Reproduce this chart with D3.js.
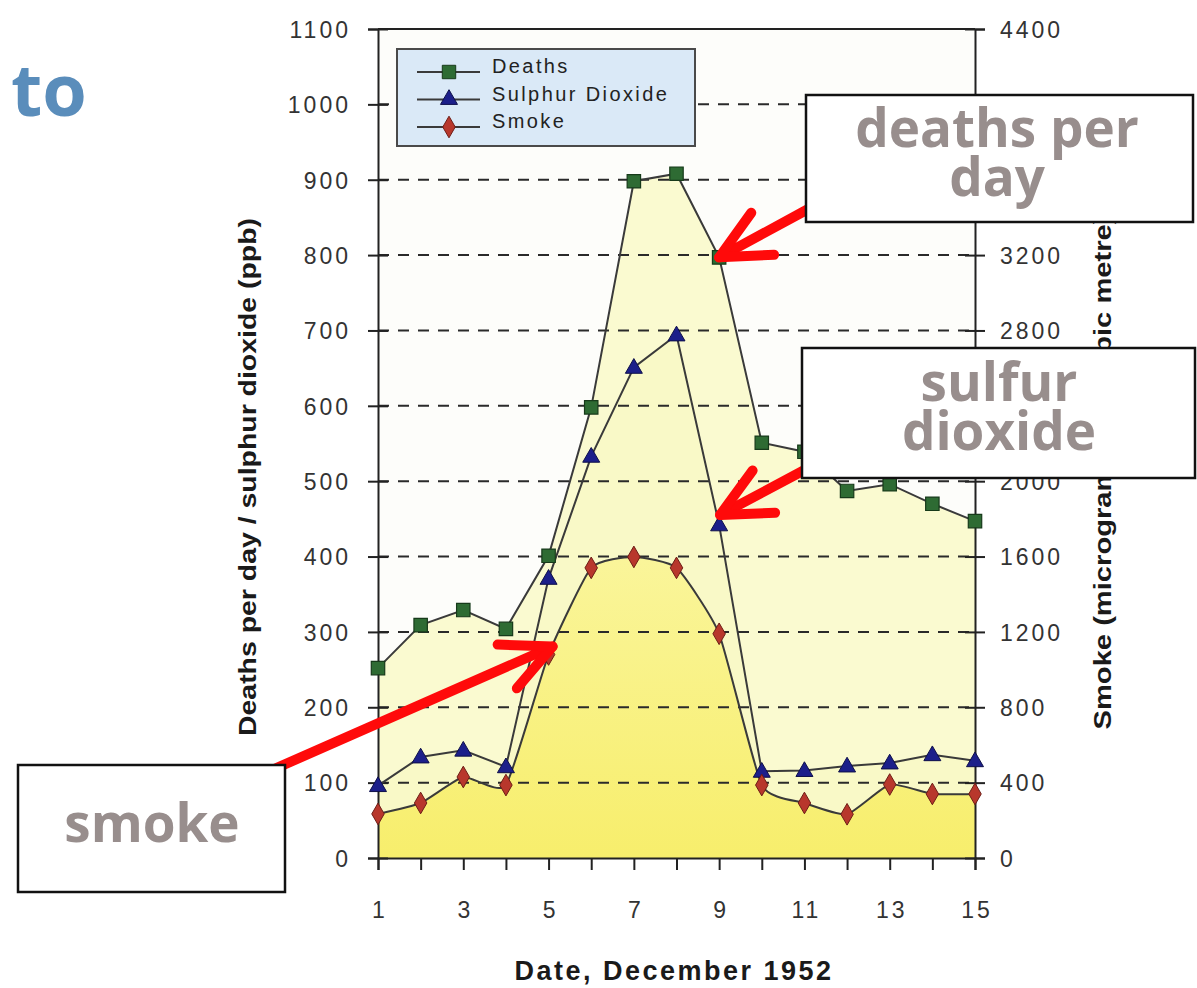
<!DOCTYPE html>
<html>
<head>
<meta charset="utf-8">
<script src="https://cdn.jsdelivr.net/npm/d3@7"></script>
<style>
  body { margin: 0; background: #fff; }
  svg { display: block; }
</style>
</head>
<body>
<div id="chart"></div>
<script>
// data
const days = [1, 2, 3, 4, 5, 6, 7, 8, 9, 10, 11, 12, 13, 14, 15];
const deaths = [252, 309, 329, 304, 401, 598, 898, 908, 797, 551, 539, 487, 496, 470, 447];
const sulphur = [96, 134, 143, 121, 371, 533, 651, 694, 442, 115, 116, 122, 126, 137, 129];
const smoke = [234, 292, 430, 387, 1080, 1540, 1598, 1540, 1190, 387, 292, 232, 390, 340, 340];
const leftTicks = [0, 100, 200, 300, 400, 500, 600, 700, 800, 900, 1000, 1100];
const rightTicks = [0, 400, 800, 1200, 1600, 2000, 2400, 2800, 3200, 3600, 4000, 4400];
const dayLabels = [1, 3, 5, 7, 9, 11, 13, 15];
const gridValues = [100, 200, 300, 400, 500, 600, 700, 800, 900, 1000];
const legendKeys = ["Deaths", "Sulphur Dioxide", "Smoke"];

const W = 1197, H = 988;
const svg = d3.select("#chart").append("svg")
  .attr("width", W).attr("height", H);

// scales
const x = d3.scaleLinear().domain([1, 15]).range([378, 975]);
const yL = d3.scaleLinear().domain([0, 1100]).range([858, 29]);
const yR = d3.scaleLinear().domain([0, 4400]).range([858, 29]);
const smooth = d3.curveCardinal.tension(0.5);

const defs = svg.append("defs");
const grad = defs.append("linearGradient").attr("id", "smokeFill")
  .attr("x1", 0).attr("y1", 0).attr("x2", 0).attr("y2", 1);
grad.append("stop").attr("offset", "0%").attr("stop-color", "#faf59a");
grad.append("stop").attr("offset", "100%").attr("stop-color", "#f7ee6c");

// plot background
svg.append("rect")
  .attr("x", x(1)).attr("y", yL(1100))
  .attr("width", x(15) - x(1)).attr("height", yL(0) - yL(1100))
  .attr("fill", "#fdfdfa");

// area under deaths
svg.append("path")
  .datum(days)
  .attr("fill", "#fafad0")
  .attr("d", d3.area()
    .x(d => x(d))
    .y0(yL(0))
    .y1((d, i) => yL(deaths[i])));

// area under sulphur dioxide (slightly stronger)
svg.append("path")
  .datum(days)
  .attr("fill", "#f9f8c2")
  .attr("fill-opacity", 0.6)
  .attr("d", d3.area()
    .x(d => x(d))
    .y0(yL(0))
    .y1((d, i) => yL(sulphur[i])));

// area under smoke (smoothed)
svg.append("path")
  .datum(days)
  .attr("fill", "url(#smokeFill)")
  .attr("d", d3.area()
    .curve(smooth)
    .x(d => x(d))
    .y0(yR(0))
    .y1((d, i) => yR(smoke[i])));

// dashed grid
svg.selectAll(".grid")
  .data(gridValues)
  .join("line")
    .attr("class", "grid")
    .attr("x1", x(1)).attr("x2", x(15))
    .attr("y1", d => yL(d)).attr("y2", d => yL(d))
    .attr("stroke", "#2a2a2a")
    .attr("stroke-width", 2)
    .attr("stroke-dasharray", "11,9");

// top border
svg.append("line")
  .attr("x1", x(1)).attr("x2", x(15))
  .attr("y1", yL(1100)).attr("y2", yL(1100))
  .attr("stroke", "#222").attr("stroke-width", 2);

const tickFont = g => g
  .style("font-family", "Liberation Sans, Arial, sans-serif")
  .style("font-size", "23px")
  .style("letter-spacing", "3px")
  .attr("fill", "#333");

// left axis
const gL = svg.append("g")
  .attr("transform", `translate(${x(1)},0)`)
  .call(d3.axisLeft(yL).tickValues(leftTicks).tickSize(10).tickFormat(d3.format("d")));
gL.select(".domain").attr("stroke", "#222").attr("stroke-width", 2);
gL.selectAll(".tick line").attr("x1", 10).attr("x2", -10).attr("stroke", "#222").attr("stroke-width", 2);
gL.selectAll(".tick text").attr("x", -27).attr("dy", "0.36em").call(tickFont);

// right axis
const gR = svg.append("g")
  .attr("transform", `translate(${x(15)},0)`)
  .call(d3.axisRight(yR).tickValues(rightTicks).tickSize(10).tickFormat(d3.format("d")));
gR.select(".domain").attr("stroke", "#222").attr("stroke-width", 2);
gR.selectAll(".tick line").attr("x1", -10).attr("x2", 10).attr("stroke", "#222").attr("stroke-width", 2);
gR.selectAll(".tick text").attr("x", 25).attr("dy", "0.36em").call(tickFont);

// bottom axis
const gB = svg.append("g")
  .attr("transform", `translate(0,${yL(0)})`)
  .call(d3.axisBottom(x).tickValues(days).tickSize(12).tickFormat(d => dayLabels.includes(d) ? d : ""));
gB.select(".domain").attr("stroke", "#222").attr("stroke-width", 2);
gB.selectAll(".tick line").attr("stroke", "#222").attr("stroke-width", 2);
gB.selectAll(".tick text").attr("y", 52).attr("dy", "0.36em").attr("dx", "1.5px").call(tickFont);
gL.selectAll(".tick text").attr("text-anchor", "end");
gR.selectAll(".tick text").attr("text-anchor", "start");
gB.selectAll(".tick text").attr("text-anchor", "middle");

// axis titles
svg.append("text")
  .attr("transform", `translate(${x(1) + 296},980)`)
  .attr("text-anchor", "middle")
  .style("font-family", "Liberation Sans, Arial, sans-serif")
  .style("font-size", "27px")
  .style("font-weight", "bold")
  .style("letter-spacing", "2.5px")
  .attr("fill", "#1a1a1a")
  .text("Date, December 1952");

svg.append("text")
  .attr("transform", "translate(256,477) rotate(-90)")
  .attr("text-anchor", "middle")
  .attr("textLength", 518)
  .attr("lengthAdjust", "spacingAndGlyphs")
  .style("font-family", "Liberation Sans, Arial, sans-serif")
  .style("font-size", "23px")
  .style("font-weight", "bold")
  .attr("fill", "#1a1a1a")
  .text("Deaths per day / sulphur dioxide (ppb)");

svg.append("text")
  .attr("transform", "translate(1111,472) rotate(-90)")
  .attr("text-anchor", "middle")
  .attr("textLength", 515)
  .attr("lengthAdjust", "spacingAndGlyphs")
  .style("font-family", "Liberation Sans, Arial, sans-serif")
  .style("font-size", "23px")
  .style("font-weight", "bold")
  .attr("fill", "#1a1a1a")
  .text("Smoke (micrograms per cubic metre)");

// series lines
const lineColor = "#3a3a3a";
svg.append("path").datum(days)
  .attr("fill", "none").attr("stroke", lineColor).attr("stroke-width", 2)
  .attr("d", d3.line().x(d => x(d)).y((d, i) => yL(deaths[i])));
svg.append("path").datum(days)
  .attr("fill", "none").attr("stroke", lineColor).attr("stroke-width", 2)
  .attr("d", d3.line().x(d => x(d)).y((d, i) => yL(sulphur[i])));
svg.append("path").datum(days)
  .attr("fill", "none").attr("stroke", lineColor).attr("stroke-width", 2)
  .attr("d", d3.line().curve(smooth).x(d => x(d)).y((d, i) => yR(smoke[i])));

// markers
const sym = {
  Deaths: { type: d3.symbolSquare, size: 180, fill: "#2e6b33", stroke: "#173a1a" },
  "Sulphur Dioxide": { type: d3.symbolTriangle, size: 125, fill: "#1c1f8a", stroke: "#0e0f4a" },
  Smoke: { type: d3.symbolDiamond, size: 135, fill: "#b8372c", stroke: "#6e1d16" }
};

svg.selectAll(".mDeaths").data(days).join("path")
  .attr("class", "mDeaths")
  .attr("transform", (d, i) => `translate(${x(d)},${yL(deaths[i])})`)
  .attr("d", d3.symbol().type(sym.Deaths.type).size(sym.Deaths.size))
  .attr("fill", sym.Deaths.fill).attr("stroke", sym.Deaths.stroke).attr("stroke-width", 1.2);

svg.selectAll(".mSO2").data(days).join("path")
  .attr("class", "mSO2")
  .attr("transform", (d, i) => `translate(${x(d)},${yL(sulphur[i]) + 1})`)
  .attr("d", d3.symbol().type(sym["Sulphur Dioxide"].type).size(sym["Sulphur Dioxide"].size))
  .attr("fill", sym["Sulphur Dioxide"].fill).attr("stroke", sym["Sulphur Dioxide"].stroke).attr("stroke-width", 1);

svg.selectAll(".mSmoke").data(days).join("path")
  .attr("class", "mSmoke")
  .attr("transform", (d, i) => `translate(${x(d)},${yR(smoke[i])})`)
  .attr("d", d3.symbol().type(sym.Smoke.type).size(sym.Smoke.size))
  .attr("fill", sym.Smoke.fill).attr("stroke", sym.Smoke.stroke).attr("stroke-width", 1);

// legend
const legend = svg.append("g").attr("transform", "translate(397,49)");
legend.append("rect")
  .attr("width", 298).attr("height", 97)
  .attr("fill", "#dae9f7")
  .attr("stroke", "#4a4a4a").attr("stroke-width", 2);
const rows = legend.selectAll(".lineLegend").data(legendKeys)
  .join("g")
    .attr("class", "lineLegend")
    .attr("transform", (d, i) => `translate(0,${23 + i * 27.5})`);
rows.append("line")
  .attr("x1", 20).attr("x2", 83)
  .attr("stroke", lineColor).attr("stroke-width", 2);
rows.append("path")
  .attr("transform", "translate(52,0)")
  .attr("d", d => d3.symbol().type(sym[d].type).size(sym[d].size)())
  .attr("fill", d => sym[d].fill)
  .attr("stroke", d => sym[d].stroke);
rows.append("text")
  .attr("x", 95).attr("y", 1)
  .style("font-family", "Liberation Sans, Arial, sans-serif")
  .style("font-size", "20px")
  .style("letter-spacing", "2.4px")
  .attr("fill", "#222")
  .text(d => d);

// red arrows pointing at data points
function arrow(tipX, tipY, tailX, tailY) {
  const ang = Math.atan2(tailY - tipY, tailX - tipX);
  const len = 55, spread = 0.45;
  const a1 = [tipX + len * Math.cos(ang - spread), tipY + len * Math.sin(ang - spread)];
  const a2 = [tipX + len * Math.cos(ang + spread), tipY + len * Math.sin(ang + spread)];
  const g = svg.append("g")
    .attr("fill", "none").attr("stroke", "#ff0a0a")
    .attr("stroke-width", 10)
    .attr("stroke-linecap", "round").attr("stroke-linejoin", "round");
  g.append("line").attr("x1", tailX).attr("y1", tailY).attr("x2", tipX).attr("y2", tipY);
  g.append("path").attr("d", d3.line()([a1, [tipX, tipY], a2]));
}
arrow(x(9), yL(deaths[8]), 812, 207);
arrow(x(9) + 1, yL(sulphur[8]) - 10, 812, 466);
arrow(x(5) + 4, yR(smoke[4]) - 8, 272, 770);

// annotation boxes
function noteBox(bx, by, bw, bh, lines, cx, baselines) {
  svg.append("rect")
    .attr("x", bx).attr("y", by).attr("width", bw).attr("height", bh)
    .attr("fill", "#fff").attr("stroke", "#111").attr("stroke-width", 2.5);
  lines.forEach((t, i) => {
    svg.append("text")
      .attr("x", cx).attr("y", baselines[i])
      .attr("text-anchor", "middle")
      .style("font-family", "Open Sans, sans-serif")
      .style("font-weight", "bold")
      .style("font-size", "53px")
      .attr("fill", "#988e8d")
      .text(t);
  });
}
noteBox(806, 95, 387, 127, ["deaths per", "day"], 997, [147, 196]);
noteBox(802, 348, 393, 130, ["sulfur", "dioxide"], 999, [401, 450]);
noteBox(18, 765, 267, 127, ["smoke"], 152, [842]);

// fragment of slide title
svg.append("text")
  .attr("x", 11).attr("y", 116)
  .style("font-family", "Open Sans, sans-serif")
  .style("font-weight", "bold")
  .style("font-size", "72px")
  .attr("fill", "#5a8dbb")
  .text("to");
</script>
</body>
</html>
